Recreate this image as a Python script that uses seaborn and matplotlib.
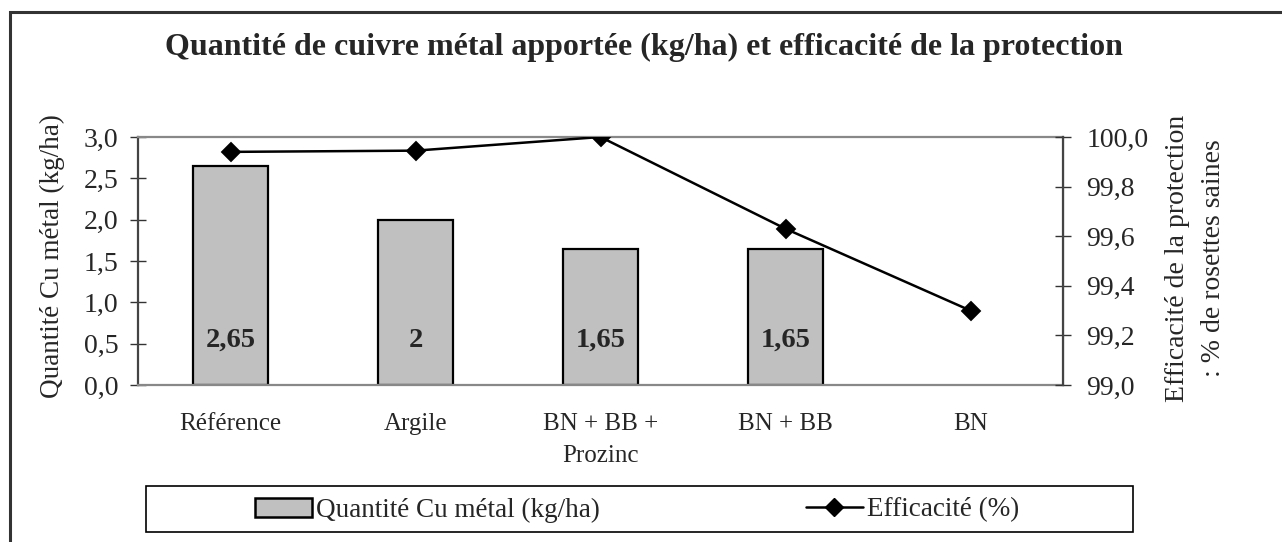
import numpy as np
import pandas as pd
import matplotlib
matplotlib.use("Agg")
import matplotlib.pyplot as plt
import seaborn as sns
from matplotlib.patches import Rectangle, Patch
from matplotlib.lines import Line2D

# data
categories = ["Référence", "Argile", "BN + BB +\nProzinc", "BN + BB", "BN"]
cuivre = [2.65, 2.0, 1.65, 1.65, np.nan]
cuivre_labels = ["2,65", "2", "1,65", "1,65", ""]
efficacite = [99.94, 99.945, 100.0, 99.63, 99.30]

left_ticks = [0.0, 0.5, 1.0, 1.5, 2.0, 2.5, 3.0]
right_ticks = [99.0, 99.2, 99.4, 99.6, 99.8, 100.0]

sns.set_style("white")
plt.rcParams["font.family"] = ["Liberation Serif", "DejaVu Serif"]

df = pd.DataFrame({"cat": categories, "cu": cuivre, "eff": efficacite})

W, H = 1282, 542
fig = plt.figure(figsize=(W / 100, H / 100), dpi=100)
ax = fig.add_axes([138 / W, 1 - 385 / H, (1063 - 138) / W, (385 - 137) / H])

# outer frame (runs off the right and bottom edges)
fig.patches.append(Rectangle((10 / W, -0.1), 1.2, 1 - 12 / H + 0.1, transform=fig.transFigure,
                             fill=False, edgecolor="#333333", linewidth=2.2, zorder=0))

sns.barplot(data=df, x="cat", y="cu", ax=ax, color="#c0c0c0", width=0.41,
            edgecolor="black", linewidth=1.6, errorbar=None, saturation=1)
for i, lab in enumerate(cuivre_labels):
    if lab:
        ax.text(i, 0.54, lab, ha="center", va="center", fontsize=20.5, fontweight="bold")

ax.set_ylim(0, 3)
ax.set_xlim(-0.5, len(categories) - 0.5)
ax.set_yticks(left_ticks)
ax.set_yticklabels([f"{v:.1f}".replace(".", ",") for v in left_ticks], fontsize=20)
ax.set_xticks(range(len(categories)))
ax.set_xticklabels(categories, fontsize=18, linespacing=1.6)
ax.set_xticks(np.arange(-0.5, len(categories), 1), minor=True)
ax.tick_params(axis="x", which="major", length=0, pad=20)
ax.tick_params(axis="x", which="minor", direction="inout", length=12, width=1, color="#555555")
ax.tick_params(axis="y", direction="inout", length=12, width=1, color="#333333", pad=8, left=True)
ax.set_xlabel("")
ax.set_ylabel("")

for side in ["top", "bottom"]:
    ax.spines[side].set_color("#888888")
    ax.spines[side].set_linewidth(1.6)
ax.spines["left"].set_color("#444444")
ax.spines["left"].set_linewidth(1.6)

ax2 = ax.twinx()
sns.pointplot(data=df, x="cat", y="eff", ax=ax2, color="black", marker="D",
              markersize=9, linewidth=1.8, errorbar=None)
ax2.set_ylim(99.0, 100.0)
ax2.set_xlim(-0.5, len(categories) - 0.5)
ax2.set_yticks(right_ticks)
ax2.set_yticklabels([f"{v:.1f}".replace(".", ",") for v in right_ticks], fontsize=20)
ax2.tick_params(axis="y", direction="inout", length=12, width=1, color="#333333", pad=11, right=True)
ax2.set_ylabel("")
for side in ["top", "bottom", "left"]:
    ax2.spines[side].set_visible(False)
ax2.spines["right"].set_color("#444444")
ax2.spines["right"].set_linewidth(1.6)

fig.text(52 / W, 1 - 256 / H, "Quantité Cu métal (kg/ha)", rotation=90,
         ha="center", va="center", fontsize=19.5)
fig.text(1177 / W, 1 - 258 / H, "Efficacité de la protection", rotation=90,
         ha="center", va="center", fontsize=20)
fig.text(1214 / W, 1 - 258 / H, ": % de rosettes saines", rotation=90,
         ha="center", va="center", fontsize=20)

fig.text(0.502, 1 - 47 / H, "Quantité de cuivre métal apportée (kg/ha) et efficacité de la protection",
         ha="center", va="center", fontsize=23, fontweight="bold")

# legend: centred entries inside a square box
fig.patches.append(Rectangle((146 / W, 1 - 532 / H), (1133 - 146) / W, 46 / H,
                             transform=fig.transFigure, fill=False, edgecolor="black",
                             linewidth=1.2, zorder=1))
handles = [Patch(facecolor="#c0c0c0", edgecolor="black", linewidth=1.8),
           Line2D([], [], color="black", linewidth=1.8, marker="D", markersize=9)]
fig.legend(handles, ["Quantité Cu métal (kg/ha)", "Efficacité (%)"],
           loc="center", bbox_to_anchor=(637 / W, 1 - 510 / H),
           ncol=2, fontsize=19.5, frameon=False, handlelength=2.1,
           handletextpad=0.15, columnspacing=7.6, borderpad=0)

fig.savefig("out.png", dpi=100)
